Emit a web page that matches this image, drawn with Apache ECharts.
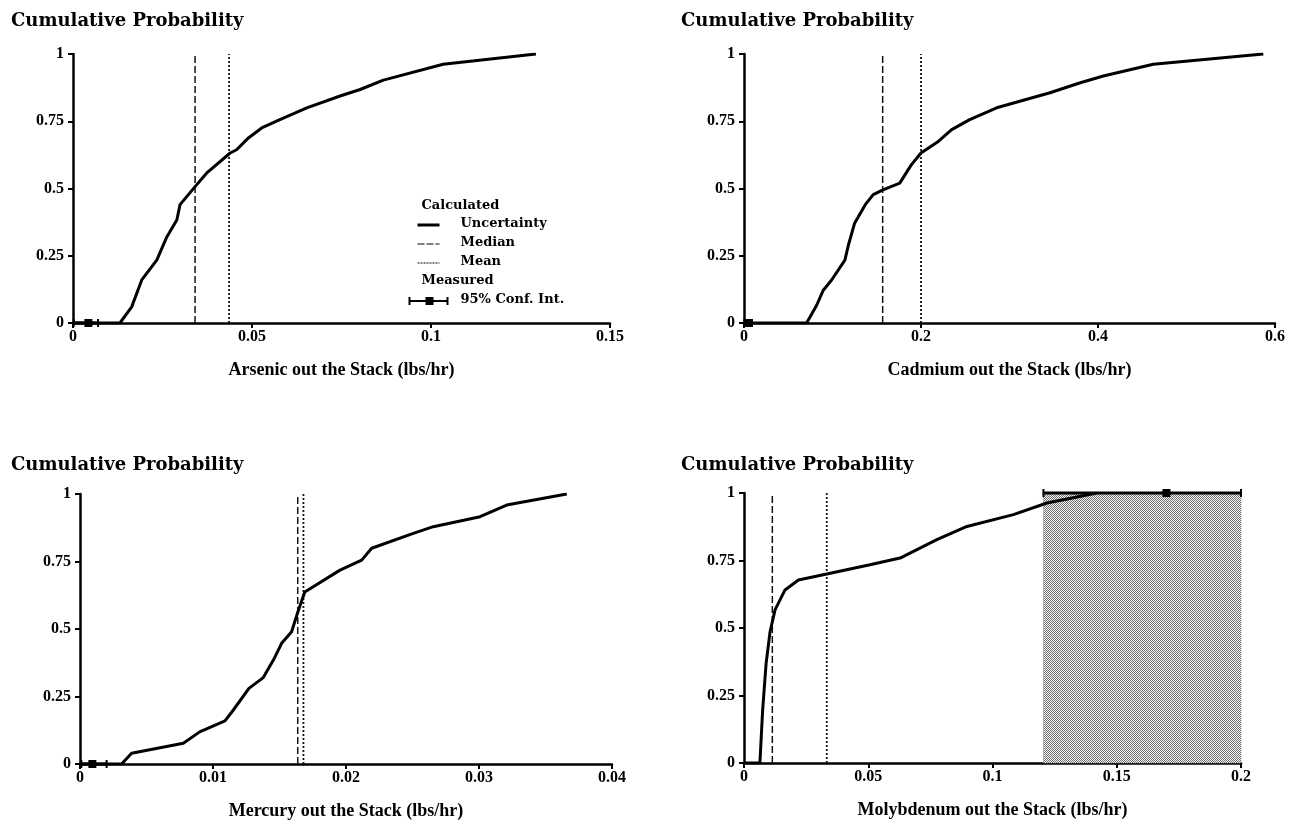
<!DOCTYPE html>
<html>
<head>
<meta charset="utf-8">
<script src="https://cdn.jsdelivr.net/npm/echarts@6/dist/echarts.min.js"></script>
<style>
  html, body { margin: 0; padding: 0; background: #fff; }
  #chartmain { width: 1305px; height: 834px; }
</style>
</head>
<body>
<div id="chartmain"></div>
<script>
// cumulative probability curves
var yTicks = [0, 0.25, 0.5, 0.75, 1];

var arsenicX = [0, 0.0131, 0.0164, 0.0192, 0.0234, 0.0262, 0.029, 0.0299, 0.0341, 0.0373, 0.0439, 0.0457, 0.049, 0.0527, 0.0578, 0.0653, 0.0746, 0.0802, 0.0867, 0.1034, 0.1293];
var arsenicP = [0, 0, 0.06, 0.16, 0.234, 0.32, 0.383, 0.44, 0.507, 0.557, 0.632, 0.644, 0.688, 0.725, 0.756, 0.8, 0.844, 0.868, 0.903, 0.962, 1];

var cadmiumX = [0, 0.0708, 0.0821, 0.0896, 0.099, 0.114, 0.118, 0.125, 0.137, 0.146, 0.157, 0.176, 0.189, 0.2, 0.2195, 0.2347, 0.255, 0.2855, 0.3458, 0.38, 0.406, 0.4625, 0.5868];
var cadmiumP = [0, 0, 0.066, 0.122, 0.16, 0.234, 0.29, 0.371, 0.44, 0.477, 0.495, 0.52, 0.588, 0.632, 0.675, 0.719, 0.756, 0.8, 0.856, 0.893, 0.918, 0.962, 1];

var mercuryX = [0, 0.00313, 0.00388, 0.00777, 0.009, 0.0109, 0.01153, 0.0127, 0.01378, 0.01454, 0.01516, 0.01591, 0.01634, 0.0169, 0.01955, 0.02118, 0.02193, 0.02506, 0.02656, 0.03008, 0.03208, 0.0366];
var mercuryP = [0, 0, 0.04, 0.077, 0.119, 0.16, 0.2, 0.28, 0.32, 0.385, 0.447, 0.49, 0.557, 0.637, 0.718, 0.755, 0.799, 0.854, 0.879, 0.916, 0.959, 1];

var molyX = [0, 0.0064, 0.0075, 0.0089, 0.0105, 0.0125, 0.0165, 0.0219, 0.0333, 0.0507, 0.0628, 0.0776, 0.0897, 0.1084, 0.1219, 0.142];
var molyP = [0, 0, 0.196, 0.369, 0.487, 0.567, 0.641, 0.678, 0.7, 0.734, 0.759, 0.827, 0.876, 0.92, 0.963, 1];

// median, mean
var medians = [0.0341, 0.1567, 0.01637, 0.0114];
var means = [0.0436, 0.2, 0.0168, 0.0333];

// measured 95% conf. int.: [low, point, high, prob]
var measured = [
  [0.0002, 0.0043, 0.007, 0],
  [0.0005, 0.0045, 0.009, 0],
  [0.0001, 0.00093, 0.002, 0],
  [0.1205, 0.17, 0.2, 1]
];

var xMax = [0.15, 0.6, 0.04, 0.2];
var xStep = [0.05, 0.2, 0.01, 0.05];
var xNames = ['Arsenic out the Stack (lbs/hr)', 'Cadmium out the Stack (lbs/hr)', 'Mercury out the Stack (lbs/hr)', 'Molybdenum out the Stack (lbs/hr)'];
var curves = [[arsenicX, arsenicP], [cadmiumX, cadmiumP], [mercuryX, mercuryP], [molyX, molyP]];

var font = "'Liberation Serif', 'Times New Roman', serif";
var wideFont = "'DejaVu Serif', 'Liberation Serif', serif";

// stipple fill for the measured range
var pat = document.createElement('canvas');
pat.width = 2; pat.height = 2;
var pctx = pat.getContext('2d');
pctx.fillStyle = '#f8f8f8'; pctx.fillRect(0, 0, 2, 2);
pctx.fillStyle = '#707070'; pctx.fillRect(0, 0, 1, 1); pctx.fillRect(1, 1, 1, 1);

var grids = [
  {left: 73, top: 54, width: 537, height: 269},
  {left: 744, top: 54, width: 531, height: 269},
  {left: 80, top: 494, width: 532, height: 270},
  {left: 744, top: 493, width: 497, height: 270}
];

function zip(a, b) {
  return a.map(function (v, i) { return [v, b[i]]; });
}

var xAxes = [], yAxes = [], series = [];
for (var i = 0; i < 4; i++) {
  xAxes.push({
    gridIndex: i, type: 'value', min: 0, max: xMax[i], interval: xStep[i],
    name: xNames[i], nameLocation: 'middle', nameGap: 38,
    nameTextStyle: {fontFamily: font, fontWeight: 'bold', fontSize: 18, color: '#000'},
    axisLine: {lineStyle: {color: '#000', width: 2.5}},
    axisTick: {length: 5, lineStyle: {color: '#000', width: 2}},
    axisLabel: {fontFamily: font, fontWeight: 'bold', fontSize: 16, color: '#000', margin: 6},
    splitLine: {show: false}
  });
  yAxes.push({
    gridIndex: i, type: 'value', min: yTicks[0], max: yTicks[yTicks.length - 1], interval: 0.25,
    axisLine: {lineStyle: {color: '#000', width: 2.5}},
    axisTick: {length: 5, lineStyle: {color: '#000', width: 2}},
    axisLabel: {fontFamily: font, fontWeight: 'bold', fontSize: 16, color: '#000', margin: 9},
    splitLine: {show: false}
  });

  var curve = {
    type: 'line', xAxisIndex: i, yAxisIndex: i, data: zip(curves[i][0], curves[i][1]),
    showSymbol: false, lineStyle: {color: '#000', width: 3}, z: 5, silent: true
  };
  if (i === 3) {
    curve.markArea = {
      silent: true,
      itemStyle: {color: {image: pat, repeat: 'repeat'}, borderColor: '#888', borderWidth: 0.5},
      data: [[{xAxis: measured[3][0], yAxis: 0}, {xAxis: measured[3][2], yAxis: 1}]]
    };
  }
  series.push(curve);

  series.push({
    type: 'line', xAxisIndex: i, yAxisIndex: i, data: [[medians[i], 0], [medians[i], 1]],
    showSymbol: false, lineStyle: {color: '#111', width: 1.5, type: [7, 3]}, z: 4, silent: true
  });
  series.push({
    type: 'line', xAxisIndex: i, yAxisIndex: i, data: [[means[i], 0], [means[i], 1]],
    showSymbol: false, lineStyle: {color: '#111', width: 1.8, type: [2, 2]}, z: 4, silent: true
  });

  series.push({
    type: 'custom', xAxisIndex: i, yAxisIndex: i, data: [measured[i]], z: 6, silent: true,
    encode: {x: [0, 1, 2], y: 3},
    renderItem: function (params, api) {
      var lo = api.coord([api.value(0), api.value(3)]);
      var mid = api.coord([api.value(1), api.value(3)]);
      var hi = api.coord([api.value(2), api.value(3)]);
      var s = {stroke: '#000', lineWidth: 3};
      return {
        type: 'group',
        children: [
          {type: 'line', shape: {x1: lo[0], y1: lo[1], x2: hi[0], y2: hi[1]}, style: s},
          {type: 'line', shape: {x1: lo[0], y1: lo[1] - 4, x2: lo[0], y2: lo[1] + 4}, style: {stroke: '#000', lineWidth: 2}},
          {type: 'line', shape: {x1: hi[0], y1: hi[1] - 4, x2: hi[0], y2: hi[1] + 4}, style: {stroke: '#000', lineWidth: 2}},
          {type: 'rect', shape: {x: mid[0] - 4, y: mid[1] - 4, width: 8, height: 8}, style: {fill: '#000'}}
        ]
      };
    }
  });
}

var titleStyle = {fontFamily: wideFont, fontWeight: 'bold', fontSize: 18, color: '#000'};
var legendText = {fontFamily: wideFont, fontWeight: 'bold', fontSize: 13, fill: '#000'};

option = {
  animation: false,
  backgroundColor: '#fff',
  title: [
    {text: 'Cumulative Probability', left: 6, top: 7, textStyle: titleStyle},
    {text: 'Cumulative Probability', left: 676, top: 7, textStyle: titleStyle},
    {text: 'Cumulative Probability', left: 6, top: 451, textStyle: titleStyle},
    {text: 'Cumulative Probability', left: 676, top: 451, textStyle: titleStyle}
  ],
  grid: grids,
  xAxis: xAxes,
  yAxis: yAxes,
  series: series,
  graphic: [{
    type: 'group', left: 407, top: 199, silent: true,
    children: [
      {type: 'text', x: 12, y: 0, style: Object.assign({text: 'Calculated'}, legendText)},
      {type: 'line', shape: {x1: 8, y1: 26, x2: 30, y2: 26}, style: {stroke: '#000', lineWidth: 3}},
      {type: 'text', x: 51, y: 18, style: Object.assign({text: 'Uncertainty'}, legendText)},
      {type: 'line', shape: {x1: 8, y1: 45, x2: 30, y2: 45}, style: {stroke: '#000', lineWidth: 1, lineDash: [7, 2]}},
      {type: 'text', x: 51, y: 37, style: Object.assign({text: 'Median'}, legendText)},
      {type: 'line', shape: {x1: 8, y1: 64, x2: 30, y2: 64}, style: {stroke: '#000', lineWidth: 1, lineDash: [2, 1]}},
      {type: 'text', x: 51, y: 56, style: Object.assign({text: 'Mean'}, legendText)},
      {type: 'text', x: 12, y: 75, style: Object.assign({text: 'Measured'}, legendText)},
      {type: 'line', shape: {x1: 0, y1: 102, x2: 38, y2: 102}, style: {stroke: '#000', lineWidth: 2}},
      {type: 'line', shape: {x1: 0, y1: 98, x2: 0, y2: 106}, style: {stroke: '#000', lineWidth: 2}},
      {type: 'line', shape: {x1: 38, y1: 98, x2: 38, y2: 106}, style: {stroke: '#000', lineWidth: 2}},
      {type: 'rect', shape: {x: 16, y: 98, width: 8, height: 8}, style: {fill: '#000'}},
      {type: 'text', x: 51, y: 94, style: Object.assign({text: '95% Conf. Int.'}, legendText)}
    ]
  }]
};

var myChart = echarts.init(document.getElementById('chartmain'));
myChart.setOption(option);
</script>
</body>
</html>
